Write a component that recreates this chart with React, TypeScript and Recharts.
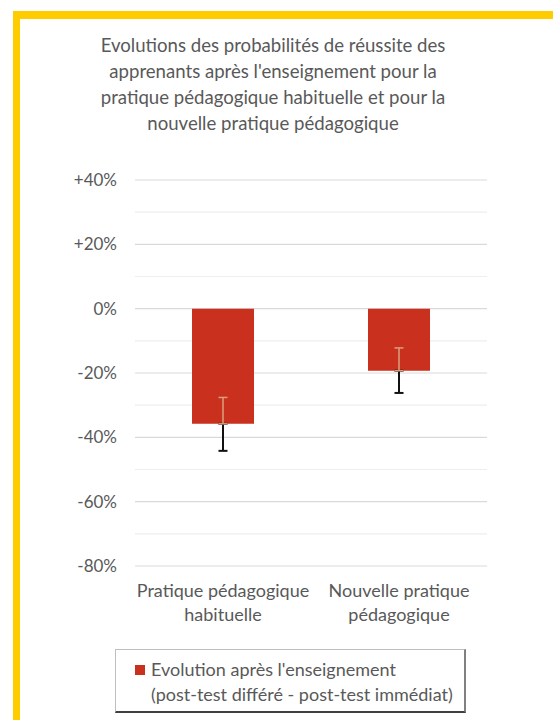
import React from 'react';
import { BarChart, Bar, XAxis, YAxis, CartesianGrid, ErrorBar, Legend } from 'recharts';

const categories = ['Pratique pédagogique\nhabituelle', 'Nouvelle pratique\npédagogique'];
const evolution = [-35.8, -19.3];
const errorLow = [8.4, 6.9];
const errorHigh = [8.2, 7.1];
const majorTicks = [-80, -60, -40, -20, 0, 20, 40];
const minorTicks = [-70, -50, -30, -10, 10, 30];
const seriesName = "Evolution après l'enseignement";
const seriesNote = '(post-test différé - post-test immédiat)';
const titleLines = [
  'Evolutions des probabilités de réussite des',
  "apprenants après l'enseignement pour la",
  'pratique pédagogique habituelle et pour la',
  'nouvelle pratique pédagogique',
];

const data = categories.map((c, i) => ({
  name: c,
  value: evolution[i],
  errBelow: [errorLow[i], 0],
  errAbove: [0, errorHigh[i]],
}));

const FONT = 'Lato, "Open Sans", sans-serif';
const TEXT = '#595959';
const RED = '#C9301D';

const XTick = (props: any) => {
  const { x, y, payload } = props;
  const lines = String(payload.value).split('\n');
  return (
    <text x={x} y={y} textAnchor="middle" fill={TEXT} fontFamily={FONT} fontSize={18}>
      {lines.map((l, i) => (
        <tspan key={i} x={x} dy={i === 0 ? 23 : 24}>{l}</tspan>
      ))}
    </text>
  );
};

const LegendContent = () => (
  <div
    style={{
      width: 351,
      height: 64,
      boxSizing: 'border-box',
      border: '1px solid #bfbfbf',
      borderBottom: '2px solid #404040',
      borderRight: '2px solid #808080',
      background: '#fff',
      fontFamily: FONT,
      fontSize: 18,
      color: TEXT,
      lineHeight: '25px',
      padding: '7px 0 0 19px',
      textAlign: 'left',
    }}
  >
    <div style={{ display: 'flex', alignItems: 'center' }}>
      <span style={{ display: 'inline-block', width: 10, height: 10, background: RED, marginRight: 6 }} />
      <span>{seriesName}</span>
    </div>
    <div style={{ paddingLeft: 16 }}>{seriesNote}</div>
  </div>
);

export default function App() {
  return (
    <div style={{ position: 'absolute', left: 0, top: 0, width: 553, height: 720, background: '#fff', overflow: 'hidden' }}>
      <div
        style={{
          position: 'absolute',
          left: 13,
          top: 11,
          width: 560,
          height: 740,
          borderLeft: '7px solid #FFCC00',
          borderTop: '8px solid #FFCC00',
          boxSizing: 'border-box',
        }}
      />
      <div
        style={{
          position: 'absolute',
          left: 53,
          top: 32,
          width: 440,
          textAlign: 'center',
          fontFamily: FONT,
          fontSize: 18.6,
          lineHeight: '26px',
          color: TEXT,
        }}
      >
        {titleLines.map((l, i) => (
          <div key={i}>{l}</div>
        ))}
      </div>
      <div style={{ position: 'absolute', left: 0, top: 0 }}>
        <BarChart
          width={553}
          height={720}
          data={data}
          margin={{ top: 180, right: 66, bottom: 40, left: 0 }}
        >
          <CartesianGrid vertical={false} horizontalValues={minorTicks} stroke="#eeeeee" strokeWidth={1.2} />
          <CartesianGrid vertical={false} stroke="#d9d9d9" strokeWidth={1.2} />
          <XAxis
            dataKey="name"
            axisLine={false}
            tickLine={false}
            tick={<XTick />}
            height={50}
            interval={0}
          />
          <YAxis
            width={135}
            domain={[-80, 40]}
            ticks={majorTicks}
            axisLine={false}
            tickLine={false}
            tickMargin={12}
            tick={{ fill: TEXT, fontFamily: FONT, fontSize: 17 }}
            tickFormatter={(v: number) => (v > 0 ? `+${v}%` : `${v}%`)}
          />
          <Legend
            content={<LegendContent />}
            wrapperStyle={{ position: 'absolute', left: 115, top: 649, width: 351, height: 64, bottom: 'auto' }}
          />
          <Bar dataKey="value" name={seriesName} fill={RED} barSize={62} isAnimationActive={false}>
            <ErrorBar dataKey="errBelow" stroke="#111" strokeWidth={2} width={4.5} isAnimationActive={false} />
            <ErrorBar dataKey="errAbove" stroke="#d9a07e" strokeWidth={1.5} width={4.5} isAnimationActive={false} />
          </Bar>
        </BarChart>
      </div>
    </div>
  );
}
